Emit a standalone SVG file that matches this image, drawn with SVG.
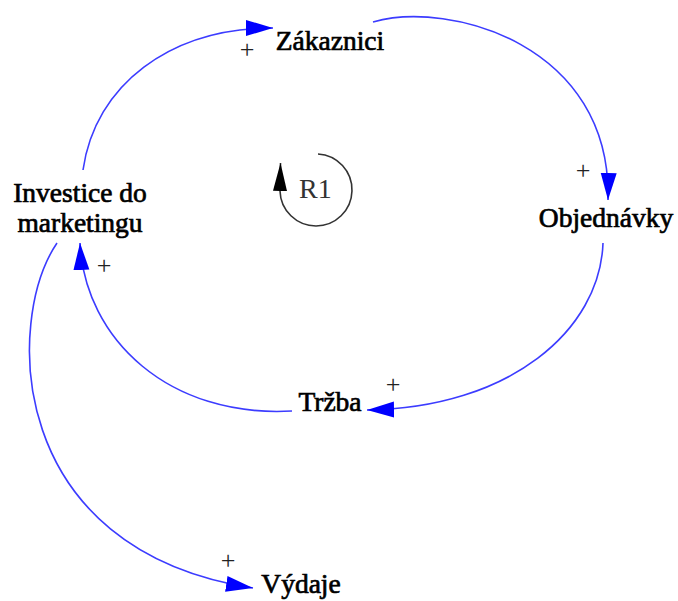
<svg xmlns="http://www.w3.org/2000/svg" width="678" height="601" viewBox="0 0 678 601">
<style>
.lbl{font-family:"Liberation Serif","Times New Roman",serif;font-size:27.5px;fill:#000;stroke:#000;stroke-width:0.7;text-anchor:middle}
.pol{font-family:"Liberation Serif","Times New Roman",serif;font-size:26px;fill:#222;text-anchor:middle}
.link{fill:none;stroke:#3c3cff;stroke-width:1.6;marker-end:url(#ah)}
</style>
<defs>
<marker id="ah" markerUnits="userSpaceOnUse" markerWidth="28" markerHeight="18" refX="27" refY="8" orient="auto">
<path d="M0,0 L27,8 L0,16 Z" fill="#0000ff"/>
</marker>
<marker id="ahk" markerUnits="userSpaceOnUse" markerWidth="28" markerHeight="16" refX="28" refY="7" orient="auto">
<path d="M0,0 L28,7 L0,14 Z" fill="#000"/>
</marker>
</defs>
<rect width="678" height="601" fill="#fff"/>
<g id="connectors">
<path class="link" d="M83,170 C95,85 170,28 273,28"/>
<path class="link" d="M373,22 C450,0 612,45 608,200"/>
<path class="link" d="M603,243 C600,330 510,408 367,410"/>
<path class="link" d="M292,411 C170,418 85,340 80,243"/>
<path class="link" d="M57,243 C5,320 5,550 253,588"/>
<text class="pol" x="247" y="58">+</text>
<text class="pol" x="583" y="179">+</text>
<text class="pol" x="104" y="274">+</text>
<text class="pol" x="393" y="393">+</text>
<text class="pol" x="228" y="569">+</text>
</g>
<g id="loop-R1">
<path d="M318,154 A36,36 0 1 1 280,191 L280.5,163" fill="none" stroke="#333" stroke-width="1.6" marker-end="url(#ahk)"/>
<text x="299" y="198" font-family="Liberation Serif, Times New Roman, serif" font-size="28" fill="#333">R1</text>
</g>
<g id="node-zakaznici"><text class="lbl" x="330" y="50">Zákaznici</text></g>
<g id="node-objednavky"><text class="lbl" x="606" y="227">Objednávky</text></g>
<g id="node-trzba"><text class="lbl" x="330" y="411">Tržba</text></g>
<g id="node-investice"><text class="lbl" x="80" y="202">Investice do</text><text class="lbl" x="80" y="232">marketingu</text></g>
<g id="node-vydaje"><text class="lbl" x="301" y="593">Výdaje</text></g>
</svg>
